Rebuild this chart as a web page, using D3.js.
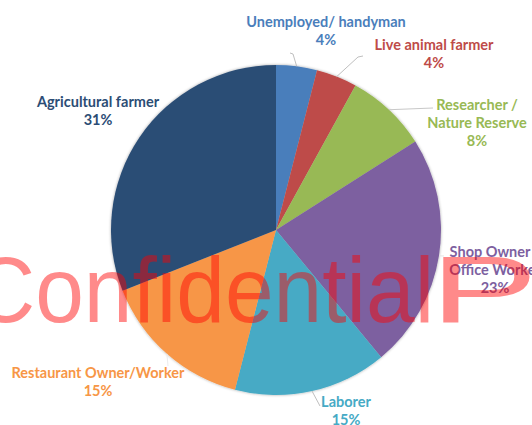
<!DOCTYPE html>
<html>
<head>
<meta charset="utf-8">
<script src="https://cdn.jsdelivr.net/npm/d3@7/dist/d3.min.js"></script>
<style>
  html, body { margin: 0; padding: 0; background: #ffffff; }
  svg { display: block; }
  .lbl { font-family: Lato, "Open Sans", sans-serif; font-weight: 700; font-size: 14.5px; }
</style>
</head>
<body>
<svg id="chart" width="532" height="425"></svg>
<script>
// Occupation share (percent), clockwise from 12 o'clock
const categories = [
  "Unemployed/ handyman",
  "Live animal farmer",
  "Researcher / Nature Reserve",
  "Shop Owner / Office Worker",
  "Laborer",
  "Restaurant Owner/Worker",
  "Agricultural farmer"
];
const values = [4, 4, 8, 23, 15, 15, 31];
const colors = ["#4a7ebb", "#be4b48", "#98b954", "#7d60a0", "#46aac5", "#f79646", "#2c4d75"];

// Label text lines per slice (the percentage is appended as the last line)
const labelLines = [
  ["Unemployed/ handyman"],
  ["Live animal farmer"],
  ["Researcher /", "Nature Reserve"],
  ["Shop Owner /", "Office Worker"],
  ["Laborer"],
  ["Restaurant Owner/Worker"],
  ["Agricultural farmer"]
];

// Label layout: centre x and first baseline y of each label block
const labelPos = [
  [326, 27], [434, 50], [477, 110], [495, 257], [346, 407], [98, 378], [98, 107]
];
// Leader line bend/end points (null = no leader)
const leaderEnd = [
  [[293, 54], [290, 53]],
  [[358, 57], [363, 56]],
  [[433, 108]],
  [[444, 256]],
  [[320, 406]],
  [[168, 366]],
  null
];
const leaderColor = ["#bfbfbf", "#bfbfbf", "#c8c8c8", "#e6e6e6", "#bfbfbf", "#ececec", null];

const cx = 276, cy = 230, R = 165;
const svg = d3.select("#chart");

// soft edge shadow around the pie
const defs = svg.append("defs");
const f = defs.append("filter").attr("id", "soft")
  .attr("x", "-10%").attr("y", "-10%").attr("width", "120%").attr("height", "120%");
f.append("feGaussianBlur").attr("in", "SourceAlpha").attr("stdDeviation", 1.6).attr("result", "b");
f.append("feComponentTransfer").attr("in", "b").attr("result", "s")
  .append("feFuncA").attr("type", "linear").attr("slope", 0.35);
const m = f.append("feMerge");
m.append("feMergeNode").attr("in", "s");
m.append("feMergeNode").attr("in", "SourceGraphic");

const pie = d3.pie().sort(null).value(d => d)(values);
const arc = d3.arc().innerRadius(0).outerRadius(R);

const g = svg.append("g")
  .attr("transform", `translate(${cx},${cy})`)
  .attr("filter", "url(#soft)");
g.selectAll("path.slice")
  .data(pie)
  .join("path")
  .attr("class", "slice")
  .attr("d", arc)
  .attr("fill", (d, i) => colors[i]);

// Leader lines from the slice edge to its label
const edge = d3.arc().innerRadius(R).outerRadius(R);
pie.forEach((d, i) => {
  if (!leaderEnd[i]) return;
  const [ex, ey] = edge.centroid(d);
  const pts = [[cx + ex, cy + ey]].concat(leaderEnd[i]);
  svg.append("path")
    .attr("d", d3.line()(pts))
    .attr("fill", "none")
    .attr("stroke", leaderColor[i])
    .attr("stroke-width", 1);
});

// Data labels
const lineH = 18;
pie.forEach((d, i) => {
  const lines = labelLines[i].concat([d3.format(".0f")(values[i]) + "%"]);
  const t = svg.append("text")
    .attr("class", "lbl")
    .attr("text-anchor", "middle")
    .attr("fill", colors[i]);
  lines.forEach((s, k) => {
    t.append("tspan")
      .attr("x", labelPos[i][0])
      .attr("y", labelPos[i][1] + k * lineH)
      .text(s);
  });
});

// Watermark
const wmStyle = sel => sel
  .attr("font-family", "'Liberation Sans', Arial, sans-serif")
  .attr("font-size", 93.6)
  .attr("fill", "#ff0000")
  .attr("fill-opacity", 0.46);
svg.append("text")
  .attr("transform", "translate(-28,322) scale(0.935,1)")
  .call(wmStyle)
  .text("Confidential");
svg.append("text")
  .attr("transform", "translate(430,322) scale(1.73,1)")
  .call(wmStyle)
  .text("P");
</script>
</body>
</html>
